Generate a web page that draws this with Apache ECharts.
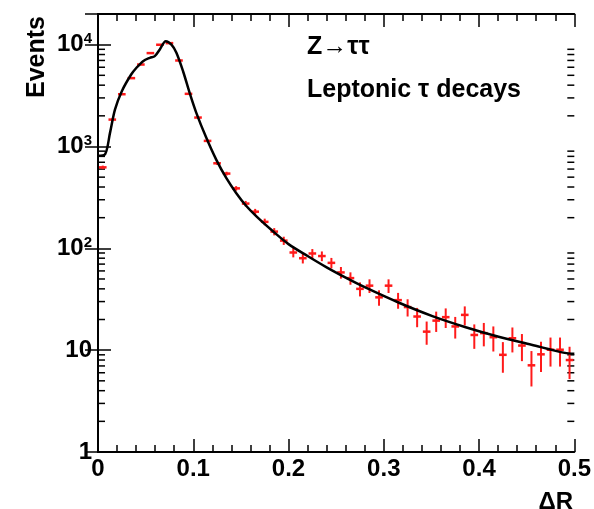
<!DOCTYPE html>
<html><head><meta charset="utf-8">
<script src="https://cdn.jsdelivr.net/npm/echarts@6/dist/echarts.min.js"></script>
<style>html,body{margin:0;padding:0;background:#fff}#c{width:594px;height:509px}</style>
</head><body><div id="c"></div>
<script>
// ---- data ----
const binCenters = [0.005,0.015,0.025,0.035,0.045,0.055,0.065,0.075,0.085,0.095,
  0.105,0.115,0.125,0.135,0.145,0.155,0.165,0.175,0.185,0.195,
  0.205,0.215,0.225,0.235,0.245,0.255,0.265,0.275,0.285,0.295,
  0.305,0.315,0.325,0.335,0.345,0.355,0.365,0.375,0.385,0.395,
  0.405,0.415,0.425,0.435,0.445,0.455,0.465,0.475,0.485,0.495];
const counts = [624,1837,3260,4690,6380,8260,9980,10350,6990,3290,
  1924,1135,684,542,388,275,229,182,146,119,
  91,80,89,84,72,58,51,40,43,33,
  43,31,26.5,21.4,15.2,19.5,21.1,17.1,22.2,14.1,
  14.7,13.4,9.0,13.1,11.1,7.1,9.1,10.1,10.1,8.0];
const errors = [25,43,57,68,80,91,100,102,84,57,
  44,34,26,23,20,17,15,13.6,12,11,
  9.5,9,9.4,9.2,8.5,7.6,7.1,6.3,6.6,5.7,
  6.6,5.5,5.1,4.6,3.9,4.4,4.6,4.1,4.7,3.8,
  3.8,3.7,3.0,3.6,3.3,2.7,3.0,3.2,3.2,2.8];
const curveX = [0,0.0075,0.0126,0.0178,0.025,0.0348,0.0404,0.0473,0.0544,0.0596,0.0649,
  0.0711,0.0771,0.0823,0.0893,0.0962,0.1032,0.1137,0.1241,0.1346,0.145,0.155,0.1663,0.1837,
  0.2,0.22,0.24,0.26,0.28,0.316,0.351,0.386,0.4205,0.455,0.49,0.5];
const curveY = [810,840,1360,2300,3490,5090,5930,6890,7430,7710,8980,
  10800,10000,8320,5480,3360,2140,1216,743,491,350,265,206,147,
  110,84,65,51.5,41.5,29.2,21.6,16.8,13.55,11.3,9.4,9.2];
const xTickLabels = ['0','0.1','0.2','0.3','0.4','0.5'];
const yMinorTicks = [2,3,4,5,6,7,8,9,20,30,40,50,60,70,80,90,
  200,300,400,500,600,700,800,900,2000,3000,4000,5000,6000,7000,8000,9000];
const titleLines = ['Z\u2192\u03c4\u03c4', 'Leptonic \u03c4 decays'];
const xName = '\u0394R', yName = 'Events';

const FONT = "'Liberation Sans', Arial, sans-serif";
const chart = echarts.init(document.getElementById('c'), null, {renderer:'canvas'});

function yLabel(v) {
  const l = Math.log10(v), e = Math.round(l);
  if (Math.abs(l - e) > 1e-6) return '';
  if (e === 0) return '1';
  if (e === 1) return '10';
  return '{b|10}{s|' + e + '}';
}
const axLine = {show:true, lineStyle:{color:'#000', width:2}};
const tickMaj = {show:true, inside:true, length:13, lineStyle:{color:'#000', width:1.5}};
const tickMin = {show:true, splitNumber:5, length:7, lineStyle:{color:'#000', width:1.5}};
const labStyle = {color:'#000', fontSize:24, fontWeight:'bold', fontFamily:FONT};

chart.setOption({
  animation:false,
  backgroundColor:'#fff',
  grid:{left:98, right:18, top:14, bottom:57, containLabel:false},
  xAxis:[
    {type:'value', min:0, max:0.5, interval:0.1, position:'bottom',
     axisLine:Object.assign({onZero:false}, axLine), axisTick:tickMaj, minorTick:tickMin,
     splitLine:{show:false}, minorSplitLine:{show:false},
     axisLabel:Object.assign({margin:5, formatter:(v,i)=>xTickLabels[i]}, labStyle)},
    {type:'value', min:0, max:0.5, interval:0.1, position:'top',
     axisLine:Object.assign({onZero:false}, axLine), axisTick:tickMaj, minorTick:tickMin,
     splitLine:{show:false}, axisLabel:{show:false}}
  ],
  yAxis:[
    {type:'log', logBase:10, min:1, max:20000, position:'left',
     axisLine:axLine, axisTick:tickMaj, splitLine:{show:false},
     axisLabel:Object.assign({margin:6, formatter:yLabel,
       rich:{b:Object.assign({lineHeight:26}, labStyle),
             s:{color:'#000', fontSize:15, fontWeight:'bold', fontFamily:FONT, verticalAlign:'top', lineHeight:15}}}, labStyle)},
    {type:'log', logBase:10, min:1, max:20000, position:'right',
     axisLine:axLine, axisTick:tickMaj, splitLine:{show:false}, axisLabel:{show:false}}
  ],
  series:[
    {type:'custom', name:'minor', silent:true, xAxisIndex:0, yAxisIndex:0,
     data:yMinorTicks.map(v=>[0.25, v]),
     renderItem:function(params, api){
       const cs = params.coordSys;
       const y = api.coord([0.25, api.value(1)])[1];
       const st = {stroke:'#000', lineWidth:1.5};
       return {type:'group', children:[
         {type:'line', shape:{x1:cs.x, y1:y, x2:cs.x+7, y2:y}, style:st},
         {type:'line', shape:{x1:cs.x+cs.width, y1:y, x2:cs.x+cs.width-7, y2:y}, style:st}
       ]};
     }},
    {type:'custom', name:'data', silent:true, xAxisIndex:0, yAxisIndex:0,
     data:binCenters.map((x,i)=>[x, counts[i], errors[i]]),
     renderItem:function(params, api){
       const x = api.value(0), y = api.value(1), e = api.value(2);
       const c = api.coord([x, y]);
       const t = api.coord([x, y + e]);
       const b = api.coord([x, Math.max(y - e, 1)]);
       const l = api.coord([x - 0.004, y]);
       const r = api.coord([x + 0.004, y]);
       const st = {stroke:'#ff1a1a', lineWidth:2};
       return {type:'group', children:[
         {type:'line', shape:{x1:c[0], y1:t[1], x2:c[0], y2:b[1]}, style:st},
         {type:'line', shape:{x1:l[0], y1:c[1], x2:r[0], y2:c[1]}, style:{stroke:'#ff1a1a', lineWidth:2.5}}
       ]};
     }},
    {type:'line', name:'fit', xAxisIndex:0, yAxisIndex:0,
     data:curveX.map((x,i)=>[x, curveY[i]]),
     smooth:0.3, showSymbol:false, symbol:'none',
     lineStyle:{color:'#000', width:2.5}, z:5}
  ],
  graphic:[
    {type:'text', x:307, y:47, style:{text:titleLines[0], font:'bold 25px '+FONT, fill:'#000', textAlign:'left', textVerticalAlign:'middle'}},
    {type:'text', x:307, y:90, style:{text:titleLines[1], font:'bold 25px '+FONT, fill:'#000', textAlign:'left', textVerticalAlign:'middle'}},
    {type:'text', x:37, y:57, rotation:Math.PI/2, style:{text:yName, font:'bold 25px '+FONT, fill:'#000', textAlign:'center', textVerticalAlign:'middle'}},
    {type:'text', x:573, y:490, style:{text:xName, font:'bold 24px '+FONT, fill:'#000', textAlign:'right', textVerticalAlign:'top'}}
  ]
});
</script></body></html>
